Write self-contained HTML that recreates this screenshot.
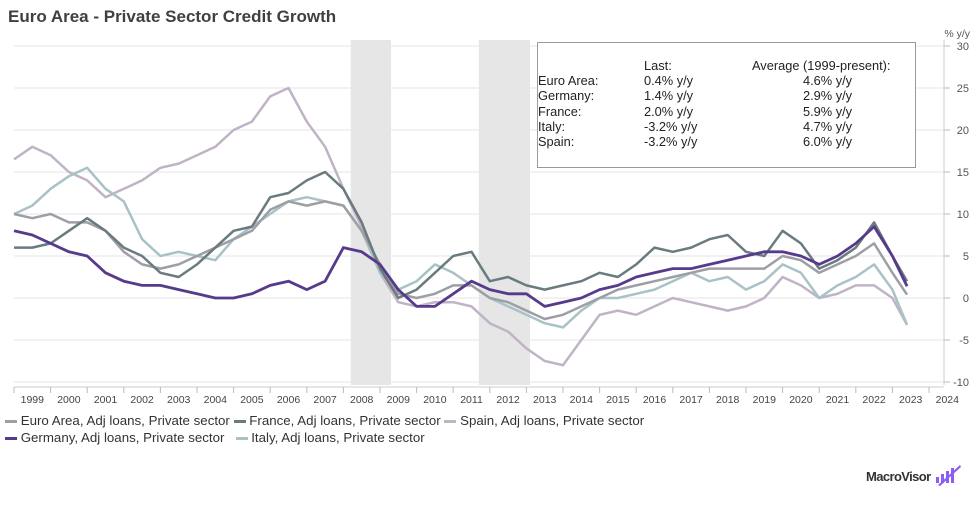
<!DOCTYPE html>
<html><head><meta charset="utf-8"><style>
body{margin:0;background:#fff;font-family:"Liberation Sans",sans-serif;}
#wrap{position:relative;width:973px;height:506px;overflow:hidden;}
</style></head><body><div id="wrap">
<svg id="chart" width="973" height="506"></svg>
</div>
<script>
const dates=[1999,1999.5,2000,2000.5,2001,2001.5,2002,2002.5,2003,2003.5,2004,2004.5,2005,2005.5,2006,2006.5,2007,2007.5,2008,2008.5,2009,2009.5,2010,2010.5,2011,2011.5,2012,2012.5,2013,2013.5,2014,2014.5,2015,2015.5,2016,2016.5,2017,2017.5,2018,2018.5,2019,2019.5,2020,2020.5,2021,2021.5,2022,2022.5,2023,2023.4];
const euroArea=[10,9.5,10,9,9,8,5.5,4,3.5,4,5,6,7,8,10.5,11.5,11,11.5,11,8,4,0.5,0,0.5,1.5,1.5,0,-0.5,-1.5,-2.5,-2,-1,0,1,1.5,2,2.5,3,3.5,3.5,3.5,3.5,5,4.5,3,4,5,6.5,3,0.4];
const france=[6,6,6.5,8,9.5,8,6,5,3,2.5,4,6,8,8.5,12,12.5,14,15,13,9,3.5,0,1,3,5,5.5,2,2.5,1.5,1,1.5,2,3,2.5,4,6,5.5,6,7,7.5,5.5,5,8,6.5,3.5,4.5,6,9,5,2.0];
const spain=[16.5,18,17,15,14,12,13,14,15.5,16,17,18,20,21,24,25,21,18,13,8.5,3,-0.5,-1,-0.5,-0.5,-1,-3,-4,-6,-7.5,-8,-5,-2,-1.5,-2,-1,0,-0.5,-1,-1.5,-1,0,2.5,1.5,0,0.5,1.5,1.5,0,-3.2];
const germany=[8,7.5,6.5,5.5,5,3,2,1.5,1.5,1,0.5,0,0,0.5,1.5,2,1,2,6,5.5,4,1,-1,-1,0.5,2,1,0.5,0.5,-1,-0.5,0,1,1.5,2.5,3,3.5,3.5,4,4.5,5,5.5,5.5,5,4,5,6.5,8.5,5,1.4];
const italy=[10,11,13,14.5,15.5,13,11.5,7,5,5.5,5,4.5,7,8.5,10,11.5,12,11.5,11,8,3,1,2,4,3,1.5,0,-1,-2,-3,-3.5,-1.5,0,0,0.5,1,2,3,2,2.5,1,2,4,3,0,1.5,2.5,4,1,-3.2];
const yTicks=[30,25,20,15,10,5,0,-5,-10];
const years=[1999,2000,2001,2002,2003,2004,2005,2006,2007,2008,2009,2010,2011,2012,2013,2014,2015,2016,2017,2018,2019,2020,2021,2022,2023,2024];
const recessions=[[2008.2,2009.3],[2011.7,2013.1]];
const svg=document.getElementById('chart');
const NS='http://www.w3.org/2000/svg';
const X=t=>14+(t-1999)*36.6;
const Y=v=>298-v*8.4;
function el(tag,attrs,parent){const e=document.createElementNS(NS,tag);for(const k in attrs)e.setAttribute(k,attrs[k]);(parent||svg).appendChild(e);return e;}
let t=el('text',{x:8,y:22,'font-size':17,'font-weight':'bold',fill:'#404040'});t.textContent='Euro Area - Private Sector Credit Growth';


recessions.forEach(r=>{const e=el('rect',{x:X(r[0]),y:40,width:X(r[1])-X(r[0]),height:345,fill:'#e6e6e6'});

});
yTicks.forEach(v=>{const g=el('line',{x1:14,x2:944,y1:Y(v),y2:Y(v),stroke:'#e6e6e6','stroke-width':1});


const tk=el('line',{x1:944,x2:950,y1:Y(v),y2:Y(v),stroke:'#bbb'});


const l=el('text',{x:969,y:Y(v)+4,'font-size':11,fill:'#555','text-anchor':'end'});l.textContent=v;

});
let ax=el('line',{x1:944,x2:944,y1:40,y2:385,stroke:'#ccc'});


let ut=el('text',{x:970,y:37,'font-size':10.5,fill:'#555','text-anchor':'end'});ut.textContent='% y/y';


let xa=el('line',{x1:14,x2:944,y1:387,y2:387,stroke:'#ccc'});


years.forEach(y=>{const tk=el('line',{x1:X(y),x2:X(y),y1:387,y2:393,stroke:'#bbb'});


const l=el('text',{x:Math.min(X(y+0.5),954),y:403,'font-size':10.5,fill:'#444','text-anchor':'middle'});l.textContent=y;

});
const series=[['spain',spain,'#c0b3c6',2.5],['italy',italy,'#a9c2c6',2.5],['euro-area',euroArea,'#9d9ea6',2.5],['france',france,'#6a7b7f',2.5],['germany',germany,'#573a8c',2.8]];
series.forEach(s=>{const p=el('polyline',{points:s[1].map((v,i)=>X(dates[i])+','+Y(v)).join(' '),fill:'none',stroke:s[2],'stroke-width':s[3],'stroke-linejoin':'round'});

});
</script>
<div style="position:absolute;left:537px;top:42px;width:377px;height:124px;border:1px solid #999;background:#fff;font-size:12.8px;color:#222;line-height:15.3px;">
<div style="position:absolute;left:0;top:15px;width:377px;">
<div style="position:relative;height:15px"><span style="position:absolute;left:106px">Last:</span><span style="position:absolute;left:214px">Average (1999-present):</span></div>
<div style="position:relative;height:15.3px"><span>Euro Area:</span><span style="position:absolute;left:106px">0.4% y/y</span><span style="position:absolute;left:265px">4.6% y/y</span></div>
<div style="position:relative;height:15.3px"><span>Germany:</span><span style="position:absolute;left:106px">1.4% y/y</span><span style="position:absolute;left:265px">2.9% y/y</span></div>
<div style="position:relative;height:15.3px"><span>France:</span><span style="position:absolute;left:106px">2.0% y/y</span><span style="position:absolute;left:265px">5.9% y/y</span></div>
<div style="position:relative;height:15.3px"><span>Italy:</span><span style="position:absolute;left:106px">-3.2% y/y</span><span style="position:absolute;left:265px">4.7% y/y</span></div>
<div style="position:relative;height:15.3px"><span>Spain:</span><span style="position:absolute;left:106px">-3.2% y/y</span><span style="position:absolute;left:265px">6.0% y/y</span></div>
</div></div>
<div style="position:absolute;left:5px;top:413px;font-size:13.3px;color:#333;">
<div style="white-space:nowrap;height:17px">
<span><span style="display:inline-block;width:12px;height:3px;background:#9d9ea6;vertical-align:middle"></span> Euro Area, Adj loans, Private sector</span>
<span><span style="display:inline-block;width:12px;height:3px;background:#6a7b7f;vertical-align:middle"></span> France, Adj loans, Private sector</span>
<span><span style="display:inline-block;width:12px;height:3px;background:#c0b3c6;vertical-align:middle"></span> Spain, Adj loans, Private sector</span></div>
<div style="white-space:nowrap;height:17px">
<span><span style="display:inline-block;width:12px;height:3px;background:#573a8c;vertical-align:middle"></span> Germany, Adj loans, Private sector</span>&nbsp;&nbsp;
<span><span style="display:inline-block;width:12px;height:3px;background:#a9c2c6;vertical-align:middle"></span> Italy, Adj loans, Private sector</span></div>
</div>
<div style="position:absolute;left:866px;top:469px;white-space:nowrap;font-size:13px;font-weight:bold;color:#333;letter-spacing:-0.6px;">MacroVisor<svg width="30" height="24" style="position:absolute;left:68px;top:-6px"><g fill="#8b5cf6"><rect x="2" y="14" width="3" height="6"/><rect x="7" y="11" width="3" height="9"/><rect x="12" y="8" width="3" height="12"/><rect x="17" y="5" width="3" height="15"/><path d="M4 22 L26 2 L27 4 L6 23Z"/></g></svg></div>
</body></html>
